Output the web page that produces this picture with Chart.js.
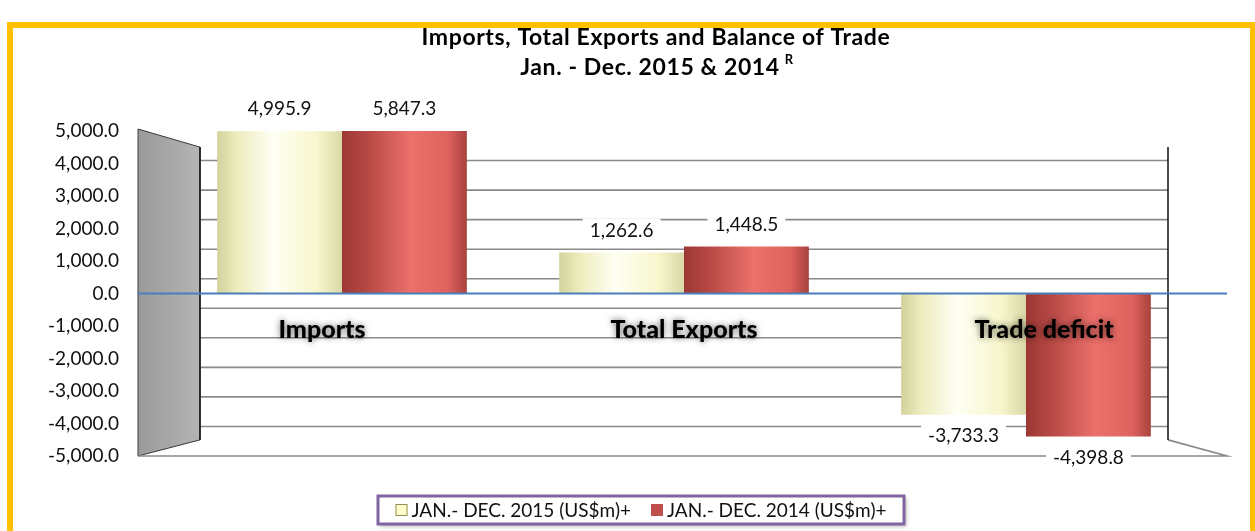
<!DOCTYPE html>
<html>
<head>
<meta charset="utf-8">
<script src="https://cdn.jsdelivr.net/npm/chart.js@4.4.1/dist/chart.umd.min.js"></script>
<style>
  html, body { margin: 0; padding: 0; background: #fff; overflow: hidden; }
  #frame { position: absolute; left: 7px; top: 22px; width: 1237px; height: 520px; border: 6px solid #FFC000; }
  #tradeChart { position: absolute; left: 0; top: 0; }
</style>
</head>
<body>
<div id="frame"></div>
<canvas id="tradeChart" width="1255" height="531"></canvas>
<script>
const categories = ["Imports", "Total Exports", "Trade deficit"];
const series2015 = [4995.9, 1262.6, -3733.3];
const series2014 = [5847.3, 1448.5, -4398.8];
const seriesLabels = ["JAN.- DEC. 2015 (US$m)+", "JAN.- DEC. 2014 (US$m)+"];
const yMin = -5000;
const yMax = 5000;
const yStep = 1000;
const titleLines = ["Imports, Total Exports and Balance of Trade", "Jan. - Dec. 2015 & 2014"];
const titleSup = "R";

const FONT = "Lato, 'Liberation Sans', sans-serif";
const catPct = 0.73;
const fmt = (v) => v.toLocaleString("en-US", { minimumFractionDigits: 1, maximumFractionDigits: 1 });

function cylinder(base, stops) {
  return (ctx) => {
    const chart = ctx.chart;
    const area = chart.chartArea;
    if (!area || ctx.type !== "data" || !chart.scales.x) return base;
    const cw = (area.right - area.left) / categories.length;
    const bw = cw * catPct / 2;
    const cx = chart.scales.x.getPixelForValue(ctx.dataIndex);
    const x0 = ctx.datasetIndex === 0 ? cx - bw : cx;
    const g = chart.ctx.createLinearGradient(x0, 0, x0 + bw, 0);
    stops.forEach(([p, c]) => g.addColorStop(p, c));
    return g;
  };
}

// 3D-ish walls, back gridlines and floor
const wallPlugin = {
  id: "walls",
  beforeDatasetsDraw(chart) {
    const { ctx, chartArea: a, scales } = chart;
    const y = scales.y, y2 = scales.y2;
    const outerX = a.left - 33, innerX = a.left + 29, backR = a.right - 29, floorR = a.right + 30;
    const backTop = y2.getPixelForValue(yMax), backBot = y2.getPixelForValue(yMin);
    const frontTop = y.getPixelForValue(yMax) - 2, frontBot = y.getPixelForValue(yMin);
    ctx.save();
    // side wall
    const g = ctx.createLinearGradient(outerX, 0, innerX, 0);
    g.addColorStop(0, "#9a9a9a");
    g.addColorStop(1, "#b4b4b4");
    ctx.beginPath();
    ctx.moveTo(outerX, frontTop);
    ctx.lineTo(innerX, backTop);
    ctx.lineTo(innerX, backBot);
    ctx.lineTo(outerX, frontBot);
    ctx.closePath();
    ctx.fillStyle = g;
    ctx.fill();
    ctx.strokeStyle = "#3a3a3a";
    ctx.lineWidth = 1;
    ctx.stroke();
    // back gridlines
    ctx.strokeStyle = "#8a8a8a";
    ctx.lineWidth = 1.6;
    y2.ticks.forEach((t) => {
      if (Math.abs(t.value) > yMax || t.value === 0) return;
      const py = y2.getPixelForValue(t.value);
      ctx.beginPath();
      ctx.moveTo(innerX, py);
      ctx.lineTo(backR, py);
      ctx.stroke();
    });
    // floor
    ctx.beginPath();
    ctx.moveTo(outerX, frontBot);
    ctx.lineTo(floorR, frontBot);
    ctx.lineTo(backR, backBot);
    ctx.stroke();
    // back wall edges
    ctx.strokeStyle = "#111";
    ctx.lineWidth = 1.5;
    ctx.beginPath();
    ctx.moveTo(innerX, backTop);
    ctx.lineTo(innerX, backBot);
    ctx.moveTo(backR, backTop);
    ctx.lineTo(backR, backBot);
    ctx.stroke();
    ctx.restore();
  },
  afterDatasetsDraw(chart) {
    const { ctx, chartArea: a, scales } = chart;
    const zero = scales.y.getPixelForValue(0);
    ctx.save();
    ctx.strokeStyle = "#4a7ebb";
    ctx.lineWidth = 2;
    ctx.beginPath();
    ctx.moveTo(a.left - 33, zero);
    ctx.lineTo(a.right + 30, zero);
    ctx.stroke();
    ctx.restore();
  }
};

// value labels with white boxes
const valueLabels = {
  id: "valueLabels",
  afterDatasetsDraw(chart) {
    const { ctx, chartArea: a } = chart;
    ctx.save();
    ctx.font = "19px " + FONT;
    ctx.textAlign = "center";
    ctx.textBaseline = "middle";
    chart.data.datasets.forEach((ds, di) => {
      chart.getDatasetMeta(di).data.forEach((el, i) => {
        const v = ds.data[i];
        const txt = fmt(v);
        let ly;
        if (v >= 0) ly = Math.max(el.y, a.top) - 22;
        else ly = Math.min(el.y, a.bottom) + 21;
        const w = ctx.measureText(txt).width + 14;
        ctx.fillStyle = "#fff";
        ctx.fillRect(el.x - w / 2, ly - 12, w, 24);
        ctx.fillStyle = "#111";
        ctx.fillText(txt, el.x, ly);
      });
    });
    ctx.restore();
  }
};

// category names inside plot, title, legend
const decorPlugin = {
  id: "decor",
  afterDraw(chart) {
    const { ctx, scales } = chart;
    const zero = scales.y.getPixelForValue(0);
    ctx.save();
    // category labels with glow
    ctx.font = "900 25px " + FONT;
    ctx.textAlign = "center";
    ctx.textBaseline = "middle";
    categories.forEach((c, i) => {
      const x = scales.x.getPixelForValue(i) - (i === 0 ? 20 : i === 2 ? -18 : 0);
      ctx.shadowColor = "rgba(0,0,0,0.6)";
      ctx.shadowBlur = 6;
      ctx.fillStyle = "#000";
      ctx.fillText(c, x, zero + 36);
    });
    ctx.shadowColor = "transparent";
    ctx.shadowBlur = 0;
    // title
    const tx = 656;
    ctx.font = "bold 23px " + FONT;
    ctx.letterSpacing = "0.6px";
    ctx.fillStyle = "#000";
    ctx.fillText(titleLines[0], tx, 38);
    const w2 = ctx.measureText(titleLines[1]).width;
    ctx.fillText(titleLines[1], tx - 6, 68);
    ctx.font = "bold 13px " + FONT;
    ctx.textAlign = "left";
    ctx.fillText(titleSup, tx - 6 + w2 / 2 + 5, 60);
    ctx.letterSpacing = "0px";
    // legend
    ctx.font = "19px " + FONT;
    const box = 12, gapT = 4, gapI = 20;
    const widths = seriesLabels.map((s) => ctx.measureText(s).width);
    const total = widths.reduce((s, w) => s + box + gapT + w, 0) + gapI;
    const lcx = 641, lcy = 510;
    const left = lcx - total / 2;
    // frame
    ctx.shadowColor = "rgba(0,0,0,0.35)";
    ctx.shadowBlur = 4;
    ctx.shadowOffsetX = 2;
    ctx.shadowOffsetY = 2;
    ctx.fillStyle = "#fff";
    ctx.fillRect(lcx - 263, lcy - 14, 526, 28);
    ctx.shadowColor = "transparent";
    ctx.shadowBlur = 0;
    ctx.shadowOffsetX = 0;
    ctx.shadowOffsetY = 0;
    ctx.strokeStyle = "#8064A2";
    ctx.lineWidth = 3;
    ctx.strokeRect(lcx - 263, lcy - 14, 526, 28);
    const fills = ["#FFFFCC", "#C0504D"];
    const strokes = ["#948A54", "#C0504D"];
    let x = left;
    seriesLabels.forEach((s, i) => {
      ctx.fillStyle = fills[i];
      ctx.fillRect(x, lcy - box / 2, box, box);
      ctx.strokeStyle = strokes[i];
      ctx.lineWidth = 1;
      ctx.strokeRect(x + 0.5, lcy - box / 2 + 0.5, box - 1, box - 1);
      ctx.fillStyle = "#111";
      ctx.textAlign = "left";
      ctx.fillText(s, x + box + gapT, lcy + 1);
      x += box + gapT + widths[i] + gapI;
    });
    ctx.restore();
  }
};

new Chart(document.getElementById("tradeChart"), {
  type: "bar",
  data: {
    labels: categories,
    datasets: [
      {
        label: seriesLabels[0],
        data: series2015,
        backgroundColor: cylinder("#FFFFCC", [[0, "#d2d29c"], [0.15, "#ecebbb"], [0.45, "#fffff4"], [0.8, "#f7f6cc"], [1, "#d9d8a6"]]),
        borderWidth: 0
      },
      {
        label: seriesLabels[1],
        data: series2014,
        backgroundColor: cylinder("#C0504D", [[0, "#9c3834"], [0.2, "#b64844"], [0.55, "#ec706b"], [0.85, "#de625d"], [1, "#a8413d"]]),
        borderWidth: 0
      }
    ]
  },
  options: {
    responsive: false,
    animation: false,
    categoryPercentage: catPct,
    barPercentage: 1,
    layout: { padding: { top: 131, bottom: 75, left: 11, right: 58 } },
    plugins: {
      legend: { display: false },
      title: { display: false },
      tooltip: { enabled: false }
    },
    scales: {
      x: { display: false },
      y: {
        position: "left",
        min: yMin,
        max: yMax,
        afterFit: (s) => { s.width = 160; },
        grid: { display: false, drawTicks: false },
        border: { display: false },
        ticks: {
          stepSize: yStep,
          padding: 52,
          color: "#111",
          font: { family: FONT, size: 19 },
          callback: (v) => fmt(v)
        }
      },
      y2: {
        display: false,
        position: "left",
        min: yMin - 550,
        max: yMax + 550,
        ticks: { stepSize: yStep }
      }
    }
  },
  plugins: [wallPlugin, valueLabels, decorPlugin]
});
</script>
</body>
</html>
